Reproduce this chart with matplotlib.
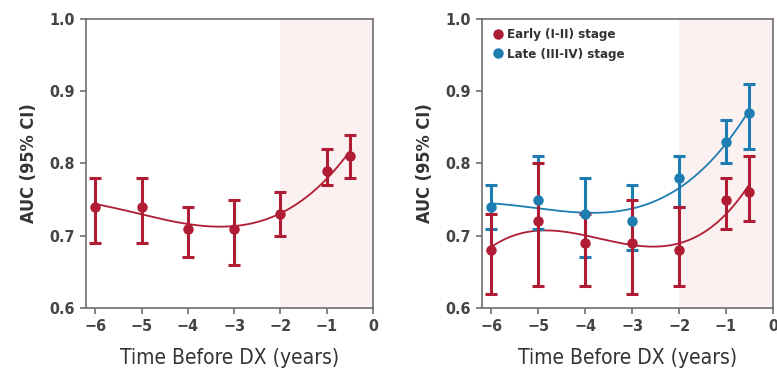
import matplotlib
matplotlib.use("Agg")
import matplotlib.pyplot as plt
from matplotlib import font_manager
from matplotlib.lines import Line2D
import numpy as np

# use a condensed face if one is installed
cond = [f.name for f in font_manager.fontManager.ttflist
        if "Narrow" in f.name or "Condensed" in f.name or f.stretch in ("condensed", "semi-condensed")]
plt.rcParams["font.family"] = (cond[:1] if cond else []) + ["DejaVu Sans"]
plt.rcParams["font.stretch"] = "condensed"

RED = "#b01c33"
BLUE = "#1d7db0"
SPINE = "#6e6e6e"

years = [-6, -5, -4, -3, -2, -1, -0.5]

# overall
auc_all = [0.74, 0.74, 0.71, 0.71, 0.73, 0.79, 0.81]
lo_all = [0.69, 0.69, 0.67, 0.66, 0.70, 0.77, 0.78]
hi_all = [0.78, 0.78, 0.74, 0.75, 0.76, 0.82, 0.84]

# by stage
auc_early = [0.68, 0.72, 0.69, 0.69, 0.68, 0.75, 0.76]
lo_early = [0.62, 0.63, 0.63, 0.62, 0.63, 0.71, 0.72]
hi_early = [0.73, 0.80, 0.73, 0.75, 0.74, 0.78, 0.81]

auc_late = [0.74, 0.75, 0.73, 0.72, 0.78, 0.83, 0.87]
lo_late = [0.71, 0.71, 0.67, 0.68, 0.74, 0.80, 0.82]
hi_late = [0.77, 0.81, 0.78, 0.77, 0.81, 0.86, 0.91]


def draw(ax, y, lo, hi, color, deg=3):
    x = np.array(years)
    y = np.array(y)
    err = [y - np.array(lo), np.array(hi) - y]
    # smooth trend line
    coef = np.polyfit(x, y, deg)
    xs = np.linspace(x.min(), x.max(), 200)
    ax.plot(xs, np.polyval(coef, xs), color=color, lw=1.3, zorder=2)
    ax.errorbar(x, y, yerr=err, fmt="o", color=color, ms=6.5, elinewidth=2.2,
                capsize=4, capthick=2.2, zorder=3)


def style(ax):
    ax.axvspan(-2, 0, color="#fbf1f1", zorder=0, lw=0)
    ax.set_xlim(-6.2, 0)
    ax.set_ylim(0.6, 1.0)
    ax.set_xticks([-6, -5, -4, -3, -2, -1, 0])
    ax.set_xticklabels(["\u22126", "\u22125", "\u22124", "\u22123", "\u22122", "\u22121", "0"])
    ax.set_yticks([0.6, 0.7, 0.8, 0.9, 1.0])
    ax.set_yticklabels(["0.6", "0.7", "0.8", "0.9", "1.0"])
    for s in ax.spines.values():
        s.set_color(SPINE)
        s.set_linewidth(1.2)
    ax.tick_params(direction="out", length=4, width=1.2, color=SPINE,
                   labelsize=11.5, labelcolor="#444444", pad=4)
    for t in ax.get_xticklabels() + ax.get_yticklabels():
        t.set_fontweight("bold")
    ax.set_xlabel("Time Before DX (years)", fontsize=15, color="#333333", labelpad=10)
    ax.set_ylabel("AUC (95% CI)", fontsize=13, color="#333333", fontweight="bold", labelpad=8)


fig = plt.figure(figsize=(7.77, 3.75), dpi=100)
ax1 = fig.add_axes([0.1107, 0.1787, 0.3694, 0.7707])
ax2 = fig.add_axes([0.6203, 0.1787, 0.3745, 0.7707])

style(ax1)
draw(ax1, auc_all, lo_all, hi_all, RED)

style(ax2)
draw(ax2, auc_late, lo_late, hi_late, BLUE)
draw(ax2, auc_early, lo_early, hi_early, RED)
handles = [Line2D([], [], ls="", marker="o", ms=6.5, color=RED),
           Line2D([], [], ls="", marker="o", ms=6.5, color=BLUE)]
ax2.legend(handles, ["Early (I-II) stage", "Late (III-IV) stage"], loc="upper left",
           frameon=False, handletextpad=0.2, borderaxespad=0.3,
           labelspacing=0.5, handlelength=1.0, labelcolor="#333333",
           prop={"weight": "bold", "size": 9.5})

fig.savefig("out.png", dpi=100)
